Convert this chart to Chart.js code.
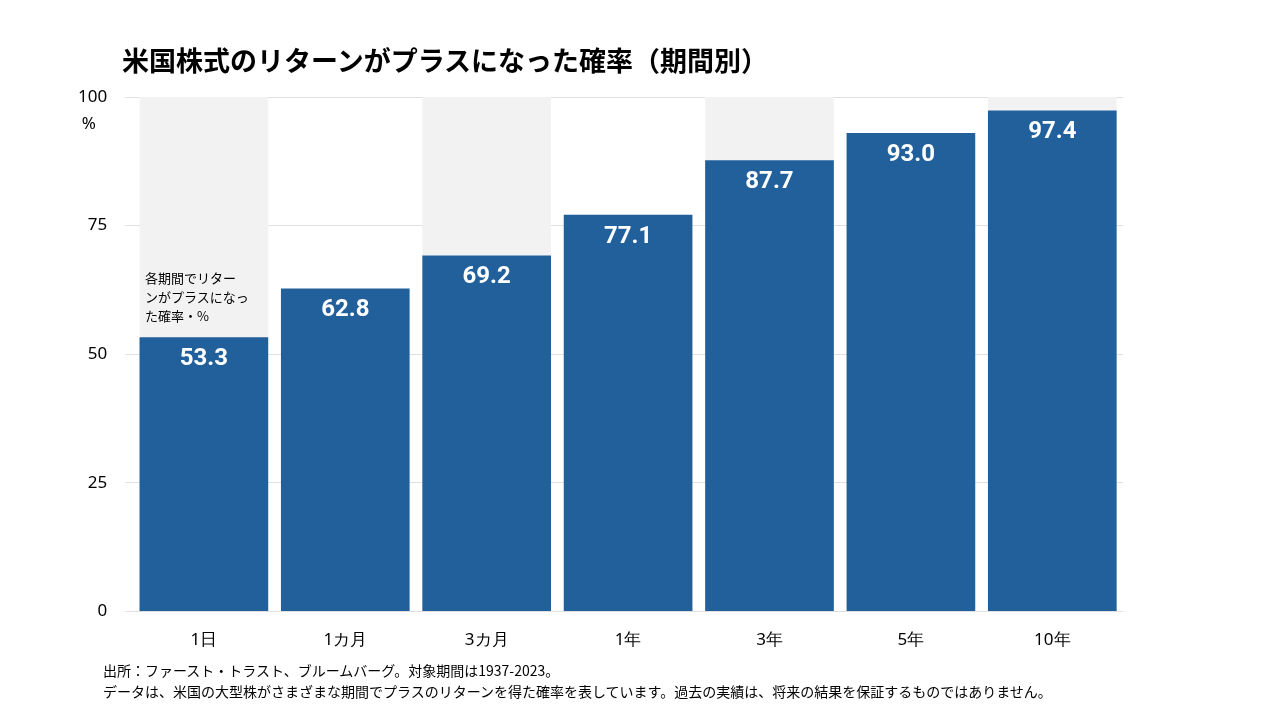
<!DOCTYPE html>
<html><head><meta charset="utf-8">
<script src="https://cdn.jsdelivr.net/npm/chart.js@4"></script>
<style>body{margin:0;background:#fff;font-family:"Noto Sans CJK JP",sans-serif}
#w{position:relative;width:1280px;height:720px}
#t{position:absolute;left:122px;top:40px;font-size:27px;font-weight:bold;color:#000}
.f{position:absolute;left:103px;font-size:14px;color:#000}
#n{position:absolute;left:145px;top:268px;font-size:13px;line-height:19px;color:#000}
</style></head><body><div id="w">
<canvas id="c" width="1280" height="720"></canvas>
<div id="t">米国株式のリターンがプラスになった確率（期間別）</div>
<div id="n">各期間でリター<br>ンがプラスになっ<br>た確率・%</div>
<div class="f" style="top:660px">出所：ファースト・トラスト、ブルームバーグ。対象期間は1937-2023。</div>
<div class="f" style="top:681px">データは、米国の大型株がさまざまな期間でプラスのリターンを得た確率を表しています。過去の実績は、将来の結果を保証するものではありません。</div>
</div>
<script>
const categories=["1日","1カ月","3カ月","1年","3年","5年","10年"];
const values=[53.3,62.8,69.2,77.1,87.7,93.0,97.4];
const bandValues=[100,0,100,0,100,0,100];
const yTicks=[0,25,50,75,100];
const labelPlugin={id:'lbl',afterDatasetsDraw(ch){const ctx=ch.ctx;const m=ch.getDatasetMeta(0);ctx.save();ctx.fillStyle='#fff';ctx.font='bold 24px "Liberation Sans Narrow","Roboto",sans-serif';ctx.textAlign='center';ctx.textBaseline='middle';
m.data.forEach((b,i)=>{ctx.fillText(values[i].toFixed(1),b.x,b.y+22);});
const y=ch.scales.y;ctx.fillStyle='#000';ctx.font='17px "Noto Sans",sans-serif';ctx.textAlign='right';ctx.fillText('%',96,y.getPixelForValue(100)+27);ctx.restore();}};
new Chart(document.getElementById('c'),{type:'bar',data:{labels:categories,datasets:[
{data:values,backgroundColor:'#22609c',barPercentage:0.91,categoryPercentage:1,order:1},
{data:bandValues,backgroundColor:'#f2f2f2',barPercentage:0.91,categoryPercentage:1,order:2}]},
options:{responsive:false,animation:false,layout:{padding:{top:97,left:60,right:157,bottom:60}},
plugins:{legend:{display:false},tooltip:{enabled:false}},
datasets:{bar:{grouped:false}},
scales:{x:{grid:{display:false},border:{display:false},ticks:{color:'#000',font:{size:17,family:'Noto Sans'},padding:10}},
y:{min:0,max:100,afterBuildTicks(a){a.ticks=yTicks.map(v=>({value:v}));},grid:{color:'#e0e0e0'},border:{display:false},ticks:{color:'#000',font:{size:17,family:'Noto Sans'},padding:18}}}},
plugins:[labelPlugin]});
</script></body></html>
